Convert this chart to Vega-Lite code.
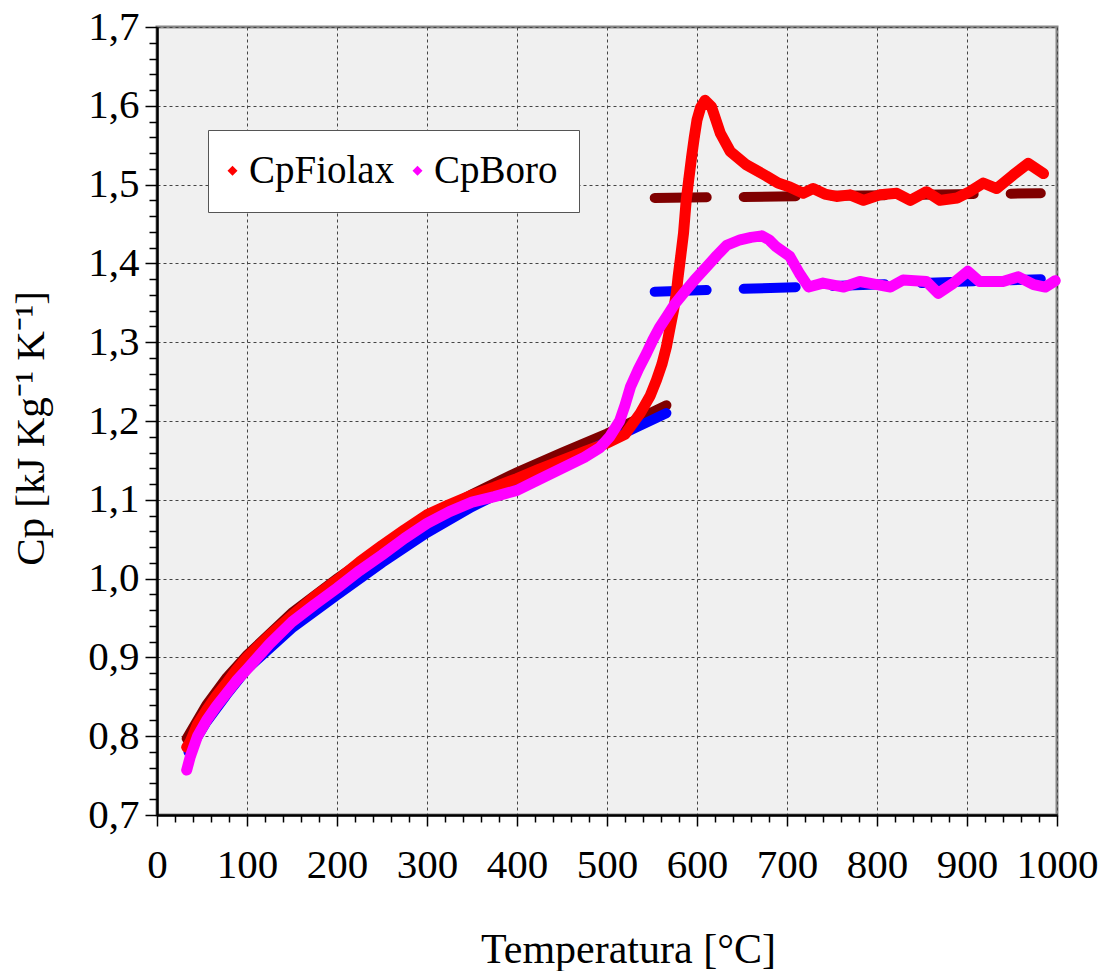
{
  "$schema": "https://vega.github.io/schema/vega-lite/v6.json",
  "width": 900,
  "height": 788,
  "autosize": {"type": "none"},
  "padding": {"left": 157, "top": 27, "right": 54, "bottom": 156},
  "background": "white",
  "config": {
    "font": "Liberation Serif",
    "view": {"fill": "#f0f0f0", "stroke": "#888888", "strokeWidth": 3}
  },
  "datasets": {
    "fiolax": [
      {"T":33,"Cp":0.786},{"T":37,"Cp":0.793},{"T":45,"Cp":0.815},{"T":55,"Cp":0.833},{"T":66,"Cp":0.851},{"T":77,"Cp":0.867},{"T":88,"Cp":0.884},{"T":100,"Cp":0.900},{"T":125,"Cp":0.928},{"T":150,"Cp":0.953},{"T":175,"Cp":0.977},{"T":200,"Cp":0.998},{"T":225,"Cp":1.021},{"T":250,"Cp":1.042},{"T":275,"Cp":1.062},{"T":300,"Cp":1.081},{"T":325,"Cp":1.094},{"T":350,"Cp":1.106},{"T":375,"Cp":1.116},{"T":400,"Cp":1.127},{"T":425,"Cp":1.139},{"T":450,"Cp":1.150},{"T":475,"Cp":1.161},{"T":500,"Cp":1.172},{"T":520,"Cp":1.183},{"T":537,"Cp":1.210},{"T":548,"Cp":1.232},{"T":555,"Cp":1.252},{"T":561,"Cp":1.272},{"T":566,"Cp":1.294},{"T":570,"Cp":1.318},{"T":574,"Cp":1.341},{"T":577,"Cp":1.362},{"T":579,"Cp":1.383},{"T":582,"Cp":1.410},{"T":585,"Cp":1.438},{"T":588,"Cp":1.480},{"T":591,"Cp":1.508},{"T":594,"Cp":1.535},{"T":597,"Cp":1.560},{"T":600,"Cp":1.582},{"T":604,"Cp":1.598},{"T":609,"Cp":1.607},{"T":616,"Cp":1.599},{"T":621,"Cp":1.582},{"T":626,"Cp":1.565},{"T":637,"Cp":1.542},{"T":655,"Cp":1.525},{"T":677,"Cp":1.511},{"T":690,"Cp":1.502},{"T":703,"Cp":1.497},{"T":718,"Cp":1.489},{"T":729,"Cp":1.495},{"T":742,"Cp":1.488},{"T":755,"Cp":1.485},{"T":770,"Cp":1.487},{"T":785,"Cp":1.480},{"T":803,"Cp":1.487},{"T":822,"Cp":1.489},{"T":837,"Cp":1.480},{"T":855,"Cp":1.491},{"T":870,"Cp":1.480},{"T":889,"Cp":1.483},{"T":903,"Cp":1.491},{"T":918,"Cp":1.502},{"T":933,"Cp":1.495},{"T":951,"Cp":1.512},{"T":968,"Cp":1.527},{"T":985,"Cp":1.514}
    ],
    "boro": [
      {"T":33,"Cp":0.757},{"T":37,"Cp":0.774},{"T":45,"Cp":0.800},{"T":55,"Cp":0.820},{"T":66,"Cp":0.838},{"T":77,"Cp":0.854},{"T":88,"Cp":0.870},{"T":100,"Cp":0.885},{"T":125,"Cp":0.917},{"T":150,"Cp":0.945},{"T":175,"Cp":0.967},{"T":200,"Cp":0.988},{"T":225,"Cp":1.010},{"T":250,"Cp":1.030},{"T":275,"Cp":1.051},{"T":300,"Cp":1.070},{"T":325,"Cp":1.085},{"T":350,"Cp":1.097},{"T":375,"Cp":1.104},{"T":400,"Cp":1.112},{"T":425,"Cp":1.126},{"T":450,"Cp":1.140},{"T":475,"Cp":1.154},{"T":492,"Cp":1.166},{"T":503,"Cp":1.180},{"T":514,"Cp":1.200},{"T":520,"Cp":1.220},{"T":526,"Cp":1.243},{"T":535,"Cp":1.266},{"T":544,"Cp":1.286},{"T":551,"Cp":1.303},{"T":558,"Cp":1.318},{"T":566,"Cp":1.332},{"T":575,"Cp":1.348},{"T":585,"Cp":1.362},{"T":598,"Cp":1.380},{"T":611,"Cp":1.396},{"T":622,"Cp":1.410},{"T":633,"Cp":1.423},{"T":648,"Cp":1.430},{"T":660,"Cp":1.433},{"T":672,"Cp":1.435},{"T":680,"Cp":1.430},{"T":688,"Cp":1.421},{"T":703,"Cp":1.409},{"T":714,"Cp":1.387},{"T":724,"Cp":1.370},{"T":740,"Cp":1.375},{"T":763,"Cp":1.370},{"T":781,"Cp":1.377},{"T":800,"Cp":1.373},{"T":815,"Cp":1.370},{"T":829,"Cp":1.379},{"T":855,"Cp":1.377},{"T":868,"Cp":1.362},{"T":885,"Cp":1.375},{"T":901,"Cp":1.390},{"T":914,"Cp":1.377},{"T":940,"Cp":1.377},{"T":957,"Cp":1.383},{"T":974,"Cp":1.373},{"T":987,"Cp":1.370},{"T":998,"Cp":1.378}
    ],
    "fitFiolaxLow": [
      {"T":33,"Cp":0.797},{"T":55,"Cp":0.840},{"T":77,"Cp":0.874},{"T":100,"Cp":0.903},{"T":150,"Cp":0.957},{"T":200,"Cp":1.000},{"T":250,"Cp":1.040},{"T":300,"Cp":1.076},{"T":350,"Cp":1.107},{"T":400,"Cp":1.135},{"T":450,"Cp":1.160},{"T":500,"Cp":1.184},{"T":533,"Cp":1.202},{"T":566,"Cp":1.220}
    ],
    "fitBoroLow": [
      {"T":35,"Cp":0.780},{"T":55,"Cp":0.818},{"T":77,"Cp":0.852},{"T":100,"Cp":0.885},{"T":150,"Cp":0.937},{"T":200,"Cp":0.979},{"T":250,"Cp":1.020},{"T":300,"Cp":1.058},{"T":350,"Cp":1.091},{"T":400,"Cp":1.119},{"T":450,"Cp":1.147},{"T":500,"Cp":1.174},{"T":533,"Cp":1.192},{"T":566,"Cp":1.210}
    ],
    "fitFiolaxHigh": [{"T":553,"Cp":1.483},{"T":982,"Cp":1.489}],
    "fitBoroHigh": [{"T":553,"Cp":1.364},{"T":982,"Cp":1.380}]
  },
  "encoding": {
    "x": {
      "field": "T", "type": "quantitative",
      "scale": {"domain": [0, 1000], "nice": false, "zero": false},
      "axis": {
        "values": [0,20,40,60,80,100,120,140,160,180,200,220,240,260,280,300,320,340,360,380,400,420,440,460,480,500,520,540,560,580,600,620,640,660,680,700,720,740,760,780,800,820,840,860,880,900,920,940,960,980,1000],
        "format": "d",
        "labelExpr": "datum.value % 100 == 0 ? datum.label : ''",
        "labelFont": "Liberation Serif", "labelFontSize": 41, "labelColor": "black",
        "labelPadding": 19, "labelOverlap": false, "labelFlush": false,
        "tickSize": {"condition": {"test": "datum.value % 100 == 0", "value": 11}, "value": 7},
        "tickColor": "black", "tickWidth": 1.5,
        "domainColor": "black", "domainWidth": 2.5,
        "grid": true, "gridColor": "#444444", "gridDash": [3, 3], "gridWidth": 1,
        "gridOpacity": {"condition": {"test": "datum.value % 100 == 0", "value": 1}, "value": 0},
        "title": "Temperatura [°C]",
        "titleFont": "Liberation Serif", "titleFontSize": 42, "titleFontWeight": "normal", "titleColor": "black",
        "titleX": 471, "titleY": 147, "titleBaseline": "alphabetic", "titleAlign": "center"
      }
    },
    "y": {
      "field": "Cp", "type": "quantitative",
      "scale": {"domain": [0.7, 1.7], "nice": false, "zero": false},
      "axis": {
        "values": [0.7,0.72,0.74,0.76,0.78,0.8,0.82,0.84,0.86,0.88,0.9,0.92,0.94,0.96,0.98,1.0,1.02,1.04,1.06,1.08,1.1,1.12,1.14,1.16,1.18,1.2,1.22,1.24,1.26,1.28,1.3,1.32,1.34,1.36,1.38,1.4,1.42,1.44,1.46,1.48,1.5,1.52,1.54,1.56,1.58,1.6,1.62,1.64,1.66,1.68,1.7],
        "labelExpr": "abs(datum.value*10 - round(datum.value*10)) < 0.001 ? replace(format(datum.value, '.1f'), '.', ',') : ''",
        "labelFont": "Liberation Serif", "labelFontSize": 41, "labelColor": "black",
        "labelPadding": 6, "labelOverlap": false, "labelFlush": false,
        "tickSize": {"condition": {"test": "abs(datum.value*10 - round(datum.value*10)) < 0.001", "value": 12}, "value": 8},
        "tickColor": "black", "tickWidth": 1.5,
        "domainColor": "black", "domainWidth": 2.5,
        "grid": true, "gridColor": "#444444", "gridDash": [3, 3], "gridWidth": 1,
        "gridOpacity": {"condition": {"test": "abs(datum.value*10 - round(datum.value*10)) < 0.001", "value": 1}, "value": 0},
        "title": "Cp [kJ Kg⁻¹ K⁻¹]",
        "titleFont": "Liberation Serif", "titleFontSize": 41, "titleFontWeight": "normal", "titleColor": "black",
        "titleX": -114, "titleY": 401, "titleAngle": -90, "titleBaseline": "alphabetic", "titleAlign": "center"
      }
    }
  },
  "layer": [
    {"data": {"name": "fitFiolaxLow"}, "mark": {"type": "line", "color": "#800000", "strokeWidth": 10, "strokeCap": "round"}},
    {"data": {"name": "fitBoroLow"}, "mark": {"type": "line", "color": "#0000ff", "strokeWidth": 10, "strokeCap": "round"}},
    {"data": {"name": "fitFiolaxHigh"}, "mark": {"type": "line", "color": "#800000", "strokeWidth": 10, "strokeCap": "round", "strokeDash": [52, 37]}},
    {"data": {"name": "fitBoroHigh"}, "mark": {"type": "line", "color": "#0000ff", "strokeWidth": 10, "strokeCap": "round", "strokeDash": [52, 37]}},
    {"data": {"name": "fiolax"}, "mark": {"type": "line", "color": "#ff0000", "strokeWidth": 11, "strokeCap": "round", "strokeJoin": "round"}},
    {
      "data": {"name": "fiolax"},
      "transform": [{"calculate": "'CpFiolax'", "as": "series"}],
      "mark": {"type": "point", "shape": "diamond", "filled": true, "size": 110, "opacity": 1},
      "encoding": {
        "color": {
          "field": "series", "type": "nominal",
          "scale": {"domain": ["CpFiolax", "CpBoro"], "range": ["#ff0000", "#ff00ff"]},
          "legend": {
            "orient": "none", "legendX": 51, "legendY": 103, "direction": "horizontal", "title": null,
            "fillColor": "white", "strokeColor": "#555555", "padding": 21,
            "labelFont": "Liberation Serif", "labelFontSize": 39, "labelColor": "black",
            "symbolType": "diamond", "symbolSize": 100, "symbolStrokeWidth": 0, "symbolOffset": -16,
            "columnPadding": 17, "labelOffset": -3
          }
        }
      }
    },
    {"data": {"name": "boro"}, "mark": {"type": "line", "color": "#ff00ff", "strokeWidth": 11, "strokeCap": "round", "strokeJoin": "round"}},
    {
      "data": {"name": "boro"},
      "transform": [{"calculate": "'CpBoro'", "as": "series"}],
      "mark": {"type": "point", "shape": "diamond", "filled": true, "size": 110, "opacity": 1},
      "encoding": {
        "color": {"field": "series", "type": "nominal"}
      }
    }
  ]
}
